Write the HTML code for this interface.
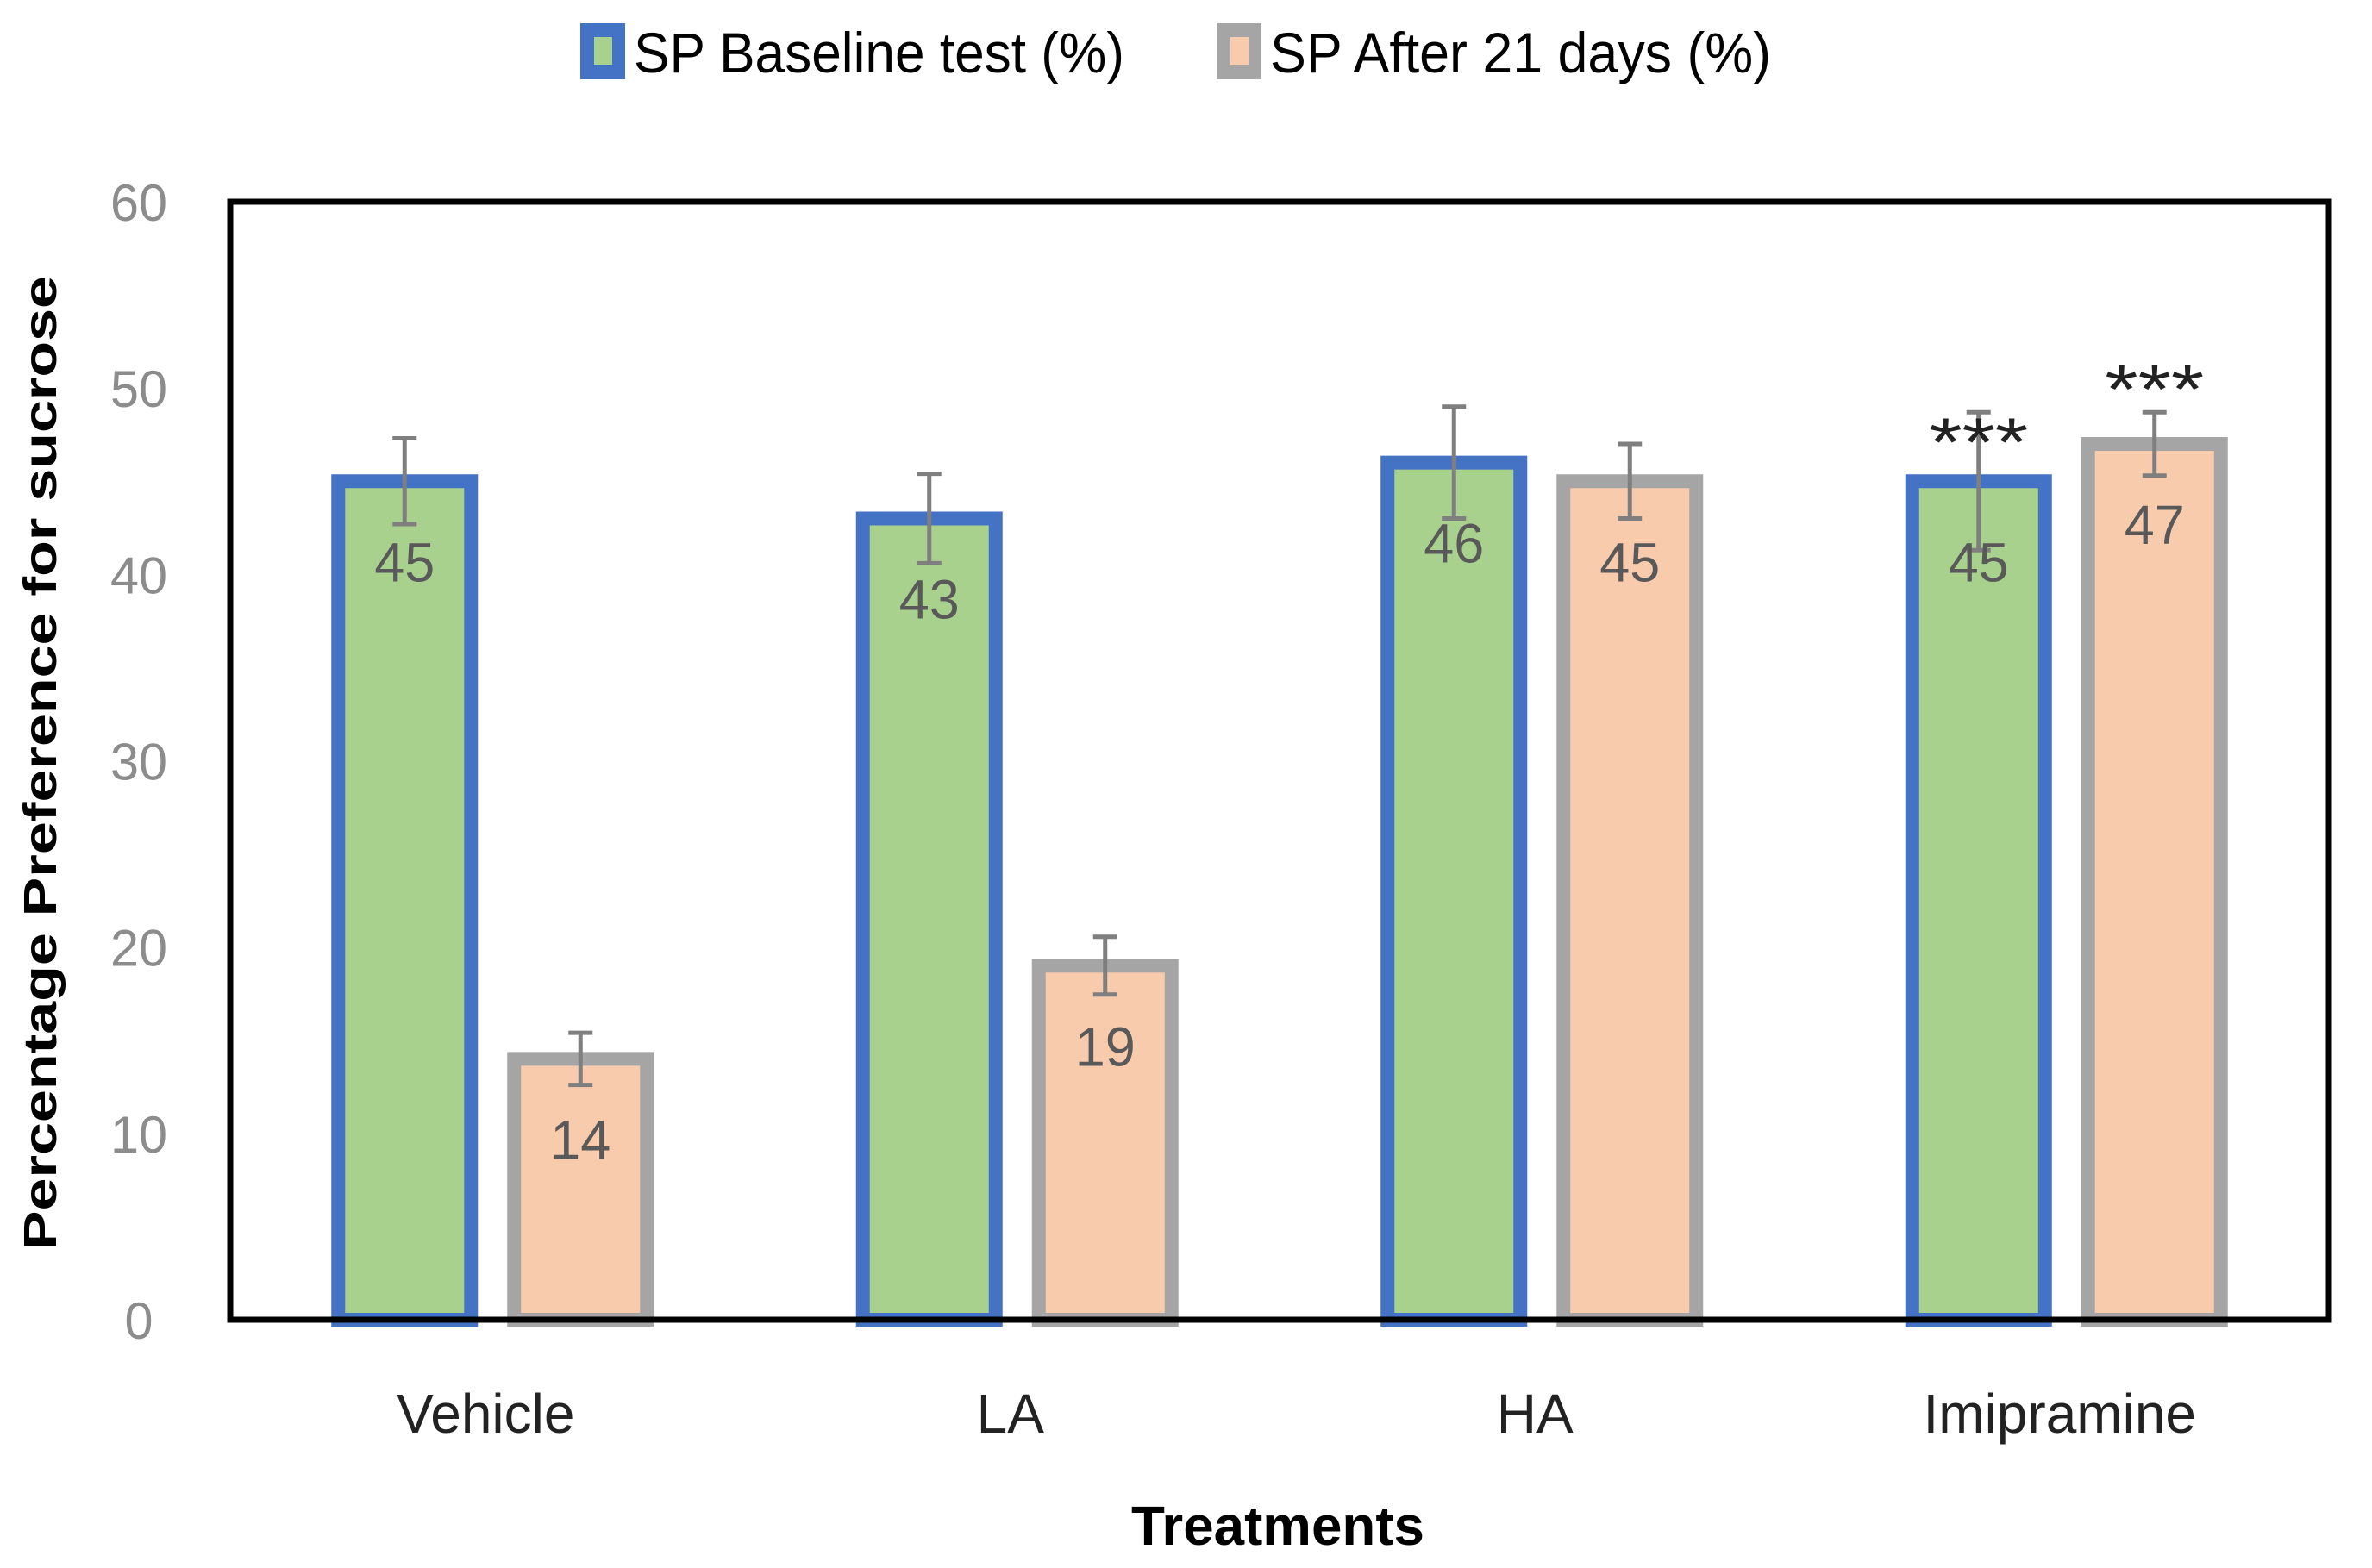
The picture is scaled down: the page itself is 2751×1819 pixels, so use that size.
<!DOCTYPE html>
<html><head><meta charset="utf-8"><style>
html,body{margin:0;padding:0;background:#fff;}
svg{display:block;font-family:"Liberation Sans",sans-serif;}
</style></head><body>
<svg id="chart" width="2751" height="1819" viewBox="0 0 2751 1819" xmlns="http://www.w3.org/2000/svg">
<g>
 <g>
  <rect x="673" y="27" width="52" height="65" fill="#4472c4"/>
  <rect x="689" y="43" width="21" height="32" fill="#a9d18e"/>
  <text x="735" y="84" font-size="66" fill="#000" textLength="569" lengthAdjust="spacingAndGlyphs">SP Baseline test (%)</text>
 </g>
 <g>
  <rect x="1411" y="27" width="52" height="65" fill="#a5a5a5"/>
  <rect x="1427" y="43" width="21" height="32" fill="#f8cbad"/>
  <text x="1473" y="84" font-size="66" fill="#000" textLength="581" lengthAdjust="spacingAndGlyphs">SP After 21 days (%)</text>
 </g>
</g>
<g id="yticks"></g>
<g id="bars"></g>
<rect x="267" y="234" width="2434" height="1297" fill="none" stroke="#000" stroke-width="7"/>
<g id="xlabels"></g>
<text x="65" y="885" font-size="54" font-weight="bold" fill="#000" text-anchor="middle" transform="rotate(-90 65 885)" textLength="1130" lengthAdjust="spacingAndGlyphs">Percentage Preference for sucrose</text>
<text x="1482" y="1792" font-size="64" font-weight="bold" fill="#000" text-anchor="middle" textLength="340" lengthAdjust="spacingAndGlyphs">Treatments</text>
</svg>
<script>
const categories = ["Vehicle", "LA", "HA", "Imipramine"];
const baselineValues = [45, 43, 46, 45];
const afterValues = [14, 19, 45, 47];
const baselineErrors = [2.3, 2.4, 3.0, 3.7];
const afterErrors = [1.4, 1.55, 2.0, 1.7];
const baselineStars = ["", "", "", "***"];
const afterStars = ["", "", "", "***"];
const yTicks = [0, 10, 20, 30, 40, 50, 60];

const NS = "http://www.w3.org/2000/svg";
const plotL = 267, plotR = 2701, plotT = 234, plotB = 1531, yMax = 60;
const y = v => plotB - (v / yMax) * (plotB - plotT);
const groupW = (plotR - plotL) / categories.length;
const xc = i => plotL + groupW * (i + 0.5);
const barW = 154, offset = 102;

function mk(tag, attrs, parent) {
  const el = document.createElementNS(NS, tag);
  for (const k in attrs) el.setAttribute(k, attrs[k]);
  parent.appendChild(el);
  return el;
}
const yg = document.getElementById("yticks");
yTicks.forEach(t => {
  const el = mk("text", {x: 161, y: y(t) + 22, "font-size": 60, fill: "#8c8c8c", "text-anchor": "middle", textLength: t ? 66 : 33, lengthAdjust: "spacingAndGlyphs"}, yg);
  el.textContent = t;
  
  
});
const bg = document.getElementById("bars");
const series = [
  {vals: baselineValues, errs: baselineErrors, stars: baselineStars, dx: -offset, fill: "#a9d18e", stroke: "#4472c4", name: "baseline", starDy: -18},
  {vals: afterValues, errs: afterErrors, stars: afterStars, dx: offset, fill: "#f8cbad", stroke: "#a5a5a5", name: "after", starDy: -36}
];
categories.forEach((c, i) => {
  series.forEach(s => {
    const v = s.vals[i], cx = xc(i) + s.dx;
    const r = mk("rect", {x: cx - barW / 2, y: y(v), width: barW, height: plotB - y(v), fill: s.fill, stroke: s.stroke, "stroke-width": 16}, bg);
    
    
    const e = s.errs[i];
    const eg = mk("g", {stroke: "#7f7f7f", "stroke-width": 5}, bg);
    
    
    mk("line", {x1: cx, x2: cx, y1: y(v + e), y2: y(v - e)}, eg);
    mk("line", {x1: cx - 14, x2: cx + 14, y1: y(v + e), y2: y(v + e)}, eg);
    mk("line", {x1: cx - 14, x2: cx + 14, y1: y(v - e), y2: y(v - e)}, eg);
    const lb = mk("text", {x: cx, y: y(v) + 116, "font-size": 64, fill: "#595959", "text-anchor": "middle", textLength: 70, lengthAdjust: "spacingAndGlyphs"}, bg);
    lb.textContent = v;
    
    
    if (s.stars[i]) {
      const st = mk("text", {x: cx, y: y(v) + s.starDy, "font-size": 80, fill: "#222", "text-anchor": "middle", textLength: 115, lengthAdjust: "spacingAndGlyphs"}, bg);
      st.textContent = s.stars[i];
      
      
    }
  });
  const xl = mk("text", {x: xc(i) - 8, y: 1662, "font-size": 64, fill: "#222", "text-anchor": "middle"}, document.getElementById("xlabels"));
  xl.textContent = c;
  
  
});
</script>
</body></html>
